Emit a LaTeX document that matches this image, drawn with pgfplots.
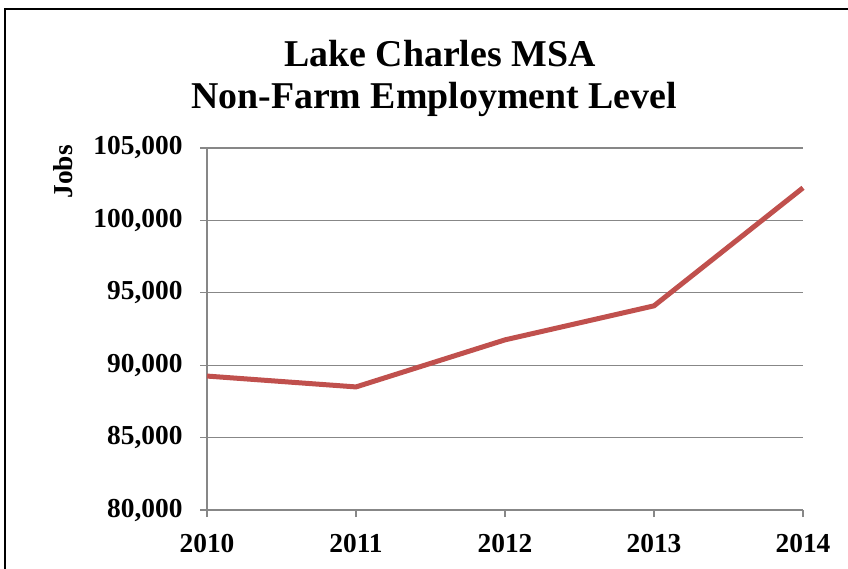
\documentclass[border=0pt]{standalone}
\usepackage{pgfplots}
\pgfplotsset{compat=1.18}
\usepackage{fontspec}
\setmainfont{Liberation Serif}
\definecolor{linered}{HTML}{C0504D}
\definecolor{gridgray}{HTML}{878787}
\begin{document}
\begin{tikzpicture}[x=1bp,y=1bp]
\path[use as bounding box] (0,0) rectangle (848,-569);
\draw[black, line width=1.3bp] (5,-620) -- (5,-9) -- (900,-9);
\node[anchor=base, font=\fontsize{38}{38}\selectfont\bfseries] at (440,-67) {Lake Charles MSA};
\node[anchor=base, font=\fontsize{38}{38}\selectfont\bfseries] at (434,-109) {Non-Farm Employment Level};
\begin{axis}[
  at={(207bp,-510bp)}, anchor=origin,
  scale only axis, width=596bp, height=362bp,
  xmin=2010, xmax=2014, ymin=80000, ymax=105000,
  xtick={2010,2011,2012,2013,2014},
  xticklabels={2010,2011,2012,2013,2014},
  ytick={80000,85000,90000,95000,100000,105000},
  scaled ticks=false,
  yticklabel style={/pgf/number format/fixed, /pgf/number format/1000 sep={,}, xshift=-14bp},
  /pgf/number format/assume math mode=true,
  axis lines*=left,
  axis line style={gridgray, line width=1.3bp},
  ymajorgrids, grid style={gridgray, line width=1.3bp},
  tick align=outside, major tick length=7bp,
  tick style={gridgray, line width=1.3bp},
  ticklabel style={font=\fontsize{27.5}{27.5}\selectfont\bfseries},
  xticklabel style={yshift=-14bp},
  ylabel={Jobs},
  ylabel style={font=\fontsize{27.5}{27.5}\selectfont\bfseries, at={(axis description cs:-0.2416,0.934)}, anchor=center},
  clip=false,
]
\addplot[linered, line width=5bp] coordinates {
(2010,89250) (2011,88500) (2012,91750) (2013,94100) (2014,102250)
};
\end{axis}
\end{tikzpicture}
\end{document}
